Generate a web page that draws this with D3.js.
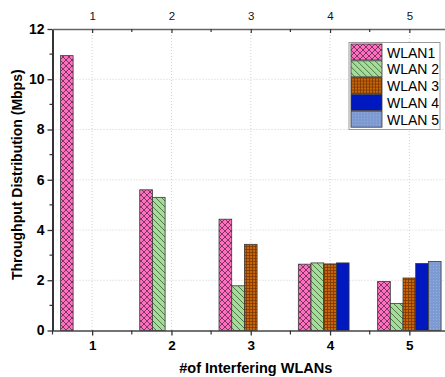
<!DOCTYPE html>
<html>
<head>
<meta charset="utf-8">
<script src="https://cdn.jsdelivr.net/npm/d3@7"></script>
<style>
  body { margin: 0; background: #fff; }
  svg { display: block; font-family: "Liberation Sans", Arial, sans-serif; }
</style>
</head>
<body>
<div id="chart"></div>
<script>
var width = 445,
    height = 377;

// data
var categories = [1, 2, 3, 4, 5];
var seriesNames = ["WLAN1", "WLAN 2", "WLAN 3", "WLAN 4", "WLAN 5"];
var wlan1 = [10.94, 5.6, 4.43, 2.64, 1.95];
var wlan2 = [null, 5.3, 1.78, 2.69, 1.08];
var wlan3 = [null, null, 3.43, 2.65, 2.09];
var wlan4 = [null, null, null, 2.69, 2.67];
var wlan5 = [null, null, null, null, 2.75];
var yTicks = [0, 2, 4, 6, 8, 10, 12];

var seriesValues = [wlan1, wlan2, wlan3, wlan4, wlan5];

var x = d3.scaleLinear().domain([0.5, 5.5]).range([52.5, 449]);
var y = d3.scaleLinear().domain([0, 12]).range([330.5, 29]);
var inner = d3.scaleBand()
    .domain(seriesNames)
    .range([x(0.6) - x(1), x(1.4) - x(1)]);

var svg = d3.select("#chart").append("svg")
    .attr("width", width)
    .attr("height", height);

// patterns
var defs = svg.append("defs");

var p1 = defs.append("pattern").attr("id", "pat0")
    .attr("patternUnits", "userSpaceOnUse").attr("width", 6).attr("height", 6);
p1.append("rect").attr("width", 6).attr("height", 6).attr("fill", "#ff6ec0");
p1.append("path").attr("d", "M0,0L6,6M6,0L0,6M-1,5L1,7M5,-1L7,1M-1,1L1,-1M5,7L7,5")
    .attr("stroke", "#5a2a45").attr("stroke-width", 0.8);

var p2 = defs.append("pattern").attr("id", "pat1")
    .attr("patternUnits", "userSpaceOnUse").attr("width", 6).attr("height", 6);
p2.append("rect").attr("width", 6).attr("height", 6).attr("fill", "#a4dc98");
p2.append("path").attr("d", "M0,0L6,6M-1,5L1,7M5,-1L7,1")
    .attr("stroke", "#3c5a38").attr("stroke-width", 0.8);

var p3 = defs.append("pattern").attr("id", "pat2")
    .attr("patternUnits", "userSpaceOnUse").attr("width", 3).attr("height", 3);
p3.append("rect").attr("width", 3).attr("height", 3).attr("fill", "#c8640a");
p3.append("path").attr("d", "M0,0.5H3M0.5,0V3")
    .attr("stroke", "#7a3800").attr("stroke-width", 0.8);

var p4 = defs.append("pattern").attr("id", "pat3")
    .attr("patternUnits", "userSpaceOnUse").attr("width", 4).attr("height", 4);
p4.append("rect").attr("width", 4).attr("height", 4).attr("fill", "#0018c0");

var p5 = defs.append("pattern").attr("id", "pat4")
    .attr("patternUnits", "userSpaceOnUse").attr("width", 3).attr("height", 3);
p5.append("rect").attr("width", 3).attr("height", 3).attr("fill", "#7d9ad2");
p5.append("rect").attr("width", 1).attr("height", 1).attr("x", 1).attr("y", 1).attr("fill", "#93addd");

// grid
svg.append("g").selectAll("line.hg")
    .data(yTicks.filter(function(d) { return d > 0 && d < 12; }))
  .enter().append("line")
    .attr("x1", x(0.5)).attr("x2", x(5.5))
    .attr("y1", function(d) { return y(d); }).attr("y2", function(d) { return y(d); })
    .attr("stroke", "#d0d0d0").attr("stroke-dasharray", "1,2");
svg.append("g").selectAll("line.vg")
    .data(categories)
  .enter().append("line")
    .attr("x1", function(d) { return x(d); }).attr("x2", function(d) { return x(d); })
    .attr("y1", y(12)).attr("y2", y(0))
    .attr("stroke", "#d0d0d0").attr("stroke-dasharray", "1,2");

// bars
seriesValues.forEach(function(vals, si) {
  var rows = categories.map(function(c, i) { return { c: c, v: vals[i] }; })
      .filter(function(d) { return d.v != null; });
  svg.append("g").selectAll("rect")
      .data(rows)
    .enter().append("rect")
      .attr("x", function(d) { return x(d.c) + inner(seriesNames[si]); })
      .attr("y", function(d) { return y(d.v); })
      .attr("width", inner.bandwidth())
      .attr("height", function(d) { return y(0) - y(d.v); })
      .attr("fill", "url(#pat" + si + ")")
      .attr("stroke", "#3a3a3a")
      .attr("stroke-width", 0.8);
});

// axes
var axisColor = "#333";
var minorY = d3.range(1, 12, 2);
var minorX = [1.5, 2.5, 3.5, 4.5];

var leftAxis = svg.append("g").attr("transform", "translate(" + x(0.5) + ",0)")
    .call(d3.axisLeft(y).tickValues(yTicks).tickSize(5).tickSizeOuter(0).tickPadding(3));
leftAxis.selectAll("text").style("font-size", "14px").style("font-weight", "bold").attr("fill", "#000");
leftAxis.selectAll("line").attr("stroke", axisColor).attr("stroke-width", 1.3);
leftAxis.select(".domain").attr("stroke", "#000").attr("stroke-width", 1.6);
leftAxis.selectAll(".minor").data(minorY).enter().append("line")
    .attr("x1", -3).attr("x2", 0)
    .attr("y1", function(d) { return y(d); }).attr("y2", function(d) { return y(d); })
    .attr("stroke", axisColor).attr("stroke-width", 1.2);

var rightAxis = svg.append("g").attr("transform", "translate(" + x(5.5) + ",0)")
    .call(d3.axisLeft(y).tickValues(yTicks).tickSize(-6).tickSizeOuter(0).tickFormat(""));
rightAxis.selectAll("line").attr("stroke", axisColor).attr("stroke-width", 1.2);
rightAxis.select(".domain").attr("stroke", "#666").attr("stroke-width", 1.5);

var bottomAxis = svg.append("g").attr("transform", "translate(0," + y(0) + ")")
    .call(d3.axisBottom(x).tickValues(categories).tickFormat(d3.format("d"))
      .tickSize(5).tickSizeOuter(0).tickPadding(5));
bottomAxis.selectAll("text").style("font-size", "13.5px").style("font-weight", "bold").attr("fill", "#000");
bottomAxis.selectAll("line").attr("stroke", axisColor).attr("stroke-width", 1.3);
bottomAxis.select(".domain").attr("stroke", "#444").attr("stroke-width", 1.6);
bottomAxis.selectAll(".minor").data(minorX.concat([0.5])).enter().append("line")
    .attr("x1", function(d) { return x(d); }).attr("x2", function(d) { return x(d); })
    .attr("y1", 0).attr("y2", 4)
    .attr("stroke", axisColor).attr("stroke-width", 1.2);

var topAxis = svg.append("g").attr("transform", "translate(0," + y(12) + ")")
    .call(d3.axisTop(x).tickValues(categories).tickFormat(d3.format("d"))
      .tickSize(-4).tickSizeOuter(0).tickPadding(9));
topAxis.selectAll("text").style("font-size", "11.5px").attr("fill", "#111");
topAxis.selectAll("line").attr("stroke", axisColor).attr("stroke-width", 1.2);
topAxis.select(".domain").attr("stroke", "#666").attr("stroke-width", 1.5);
topAxis.selectAll(".minor").data(minorX).enter().append("line")
    .attr("x1", function(d) { return x(d); }).attr("x2", function(d) { return x(d); })
    .attr("y1", 0).attr("y2", 3)
    .attr("stroke", axisColor).attr("stroke-width", 1.2);

// axis titles
svg.append("text")
    .attr("x", (x(0.5) + x(5.5)) / 2 + 5)
    .attr("y", 373)
    .attr("text-anchor", "middle")
    .style("font-size", "14.5px").style("font-weight", "bold")
    .text("#of Interfering WLANs");

svg.append("text")
    .attr("transform", "translate(22," + ((y(0) + y(12)) / 2 - 5) + ")rotate(-90)")
    .attr("text-anchor", "middle")
    .style("font-size", "14px").style("font-weight", "bold")
    .text("Throughput Distribution (Mbps)");

// legend
var legend = svg.append("g").attr("transform", "translate(349,42.5)");
legend.append("rect")
    .attr("width", 91).attr("height", 87)
    .attr("fill", "#fff").attr("stroke", "#999").attr("stroke-width", 1);
var li = legend.selectAll(".item").data(seriesNames)
  .enter().append("g")
    .attr("transform", function(d, i) { return "translate(2," + (1.5 + i * 16.8) + ")"; });
li.append("rect")
    .attr("width", 31).attr("height", 16)
    .attr("fill", function(d, i) { return "url(#pat" + i + ")"; })
    .attr("stroke", "#3a3a3a").attr("stroke-width", 0.8);
li.append("text")
    .attr("x", 36).attr("y", 13.5)
    .style("font-size", "14px")
    .text(function(d) { return d; });
</script>
</body>
</html>
